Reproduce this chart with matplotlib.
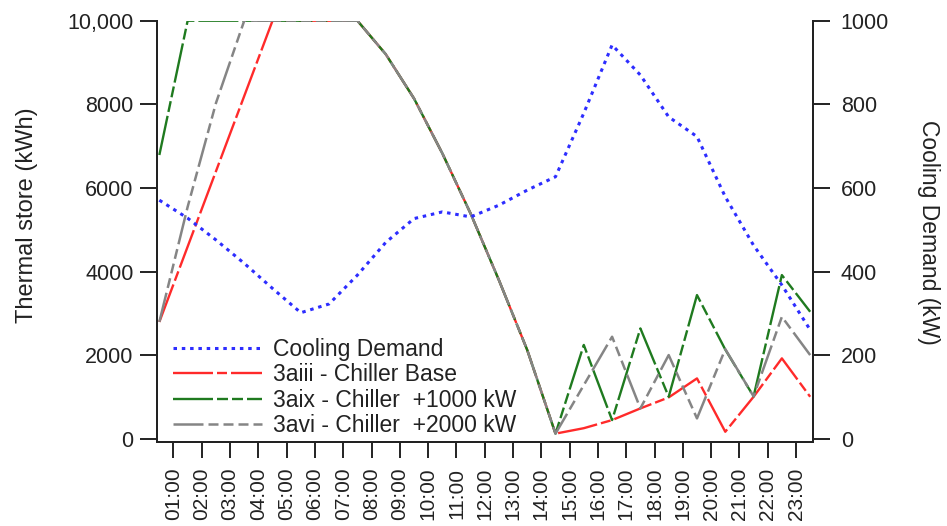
import matplotlib
matplotlib.use("Agg")
import matplotlib.pyplot as plt

plt.rcParams['font.family'] = ['Liberation Sans', 'DejaVu Sans']
plt.rcParams['lines.scale_dashes'] = False

# ---- data ----
hours = [0.5, 1.5, 2.5, 3.5, 4.5, 5.5, 6.5, 7.5, 8.5, 9.5, 10.5, 11.5,
         12.5, 13.5, 14.5, 15.5, 16.5, 17.5, 18.5, 19.5, 20.5, 21.5, 22.5, 23.5]
tick_hours = list(range(1, 24))
tick_labels = [f"{h:02d}:00" for h in tick_hours]

cooling_demand = [571, 528, 476, 420, 360, 302, 323, 392, 470, 527, 543, 531,
                  559, 595, 627, 779, 942, 870, 770, 723, 579, 463, 368, 261]
chiller_base = [2800, 4600, 6400, 8200, 10000, 10000, 10000, 10000, 9200, 8140, 6830, 5390,
                3800, 2130, 130, 260, 454, 733, 996, 1450, 175, 1011, 1929, 1011]
chiller_1000 = [6790, 10000, 10000, 10000, 10000, 10000, 10000, 10000, 9200, 8140, 6830, 5390,
                3800, 2130, 130, 2250, 454, 2645, 1011, 3442, 2140, 1020, 3920, 3043]
chiller_2000 = [2800, 5550, 8030, 10000, 10000, 10000, 10000, 10000, 9200, 8140, 6830, 5390,
                3800, 2130, 130, 1290, 2446, 733, 2008, 494, 2150, 1020, 2923, 2008]

labels = ["Cooling Demand", "3aiii - Chiller Base",
          "3aix - Chiller  +1000 kW", "3avi - Chiller  +2000 kW"]

W, H = 947, 526
fig = plt.figure(figsize=(W / 100, H / 100), dpi=100)
L, R, T, B = 157, 813, 20.7, 442
ax = fig.add_axes([L / W, 1 - B / H, (R - L) / W, (B - T) / H])
ax2 = ax.twinx()

px = 0.72  # points per pixel at dpi 100

def d(seq):
    return [v * px for v in seq]

lr, = ax.plot(hours, chiller_base, color='#ff2a2a', lw=1.7, dashes=d([40, 4, 10, 4]))
lg, = ax.plot(hours, chiller_1000, color='#1f7a1f', lw=1.7, dashes=d([40, 4, 11, 4, 11, 4]))
lk, = ax.plot(hours, chiller_2000, color='#858585', lw=1.8, dashes=d([30, 5, 10, 5, 10, 5, 10, 5]))
lb, = ax2.plot(hours, cooling_demand, color='#2d2dff', lw=2.2, dashes=d([3.5, 4.8]))

for a in (ax, ax2):
    a.set_xlim(0.417, 23.6)
    a.spines['top'].set_visible(False)
    for s in ('left', 'right', 'bottom'):
        a.spines[s].set_linewidth(1.4)
        a.spines[s].set_color('#222222')

ax.set_ylim(-70, 10000)
ax2.set_ylim(-7, 1000)

ax.set_yticks([0, 2000, 4000, 6000, 8000, 10000])
ax.set_yticklabels(['0', '2000', '4000', '6000', '8000', '10,000'])
ax2.set_yticks([0, 200, 400, 600, 800, 1000])
ax2.set_yticklabels(['0', '200', '400', '600', '800', '1000'])
ax.set_xticks(tick_hours)
ax.set_xticklabels(tick_labels, rotation=90)

tick_kw = dict(direction='out', width=1.4, color='#222222', labelcolor='#222222', labelsize=15.5)
ax.tick_params(axis='y', length=12, pad=5, **tick_kw)
ax.tick_params(axis='x', length=11.5, pad=7, labelsize=15, direction='out', width=1.4,
               color='#222222', labelcolor='#222222')
ax2.tick_params(axis='y', length=12, pad=8, **tick_kw)

fig.text(27 / W, 1 - 215 / H, "Thermal store (kWh)", rotation=90, ha='center', va='center',
         fontsize=17, color='#222222')
fig.text(928 / W, 1 - 232 / H, "Cooling Demand (kW)", rotation=270, ha='center', va='center',
         fontsize=16.5, color='#222222')

leg = ax2.legend([lb, lr, lg, lk], labels, loc='upper left',
                 bbox_to_anchor=(173 / W, 1 - 338 / H), bbox_transform=fig.transFigure,
                 frameon=False, fontsize=16.5, handlelength=3.9, handletextpad=0.45,
                 labelspacing=0.1, borderpad=0, borderaxespad=0)
for t in leg.get_texts():
    t.set_color('#222222')

fig.savefig("out.png", dpi=100)
